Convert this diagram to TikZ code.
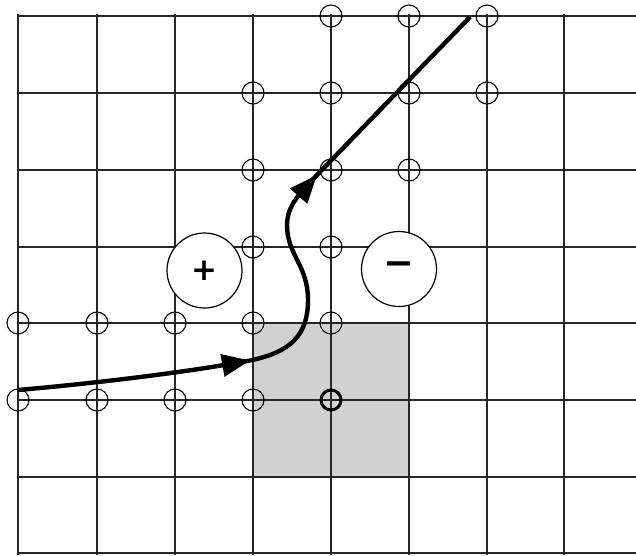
\documentclass[tikz,border=0pt]{standalone}
\usepackage{fontspec}
\newfontfamily\signfont{DejaVu Sans}
\usetikzlibrary{arrows.meta}
\tikzset{
  gridline/.style={line width=1.3pt, black!85},
  site/.style={circle, draw=black, line width=1.1pt, minimum size=22pt, inner sep=0pt},
  thicksite/.style={circle, draw=black, line width=3pt, minimum size=20pt, inner sep=0pt},
  charge/.style={circle, draw=black, fill=white, line width=1.2pt, minimum size=75pt, inner sep=0pt},
  pathline/.style={line width=4.4pt, black},
  tip/.style={-{Triangle[length=28pt,width=22pt]}},
  shade/.style={fill=black!18, draw=none}
}
\begin{document}
\begin{tikzpicture}[x=1pt,y=-1pt]
\useasboundingbox (0,0) rectangle (636,555);
% shaded plaquette
\fill[shade] (253,323) rectangle (409,477);
% grid
\foreach \gx in {18,97,175,253,331,409,487,564}
  \draw[gridline] (\gx,14) -- (\gx,555);
\foreach \gy in {16,93,170,247,323,400,477,553}
  \draw[gridline] (18,\gy) -- (636,\gy);
% lattice sites
\node[site] (s1) at (331,16) {};
\node[site] (s2) at (409,16) {};
\node[site] (s3) at (487,16) {};
\node[site] (s4) at (253,93) {};
\node[site] (s5) at (331,93) {};
\node[site] (s6) at (409,93) {};
\node[site] (s7) at (487,93) {};
\node[site] (s8) at (253,170) {};
\node[site] (s9) at (331,170) {};
\node[site] (s10) at (409,170) {};
\node[site] (s11) at (253,247) {};
\node[site] (s12) at (331,247) {};
\node[site] (s13) at (18,323) {};
\node[site] (s14) at (97,323) {};
\node[site] (s15) at (175,323) {};
\node[site] (s16) at (253,323) {};
\node[site] (s17) at (331,323) {};
\node[site] (s18) at (18,400) {};
\node[site] (s19) at (97,400) {};
\node[site] (s20) at (175,400) {};
\node[site] (s21) at (253,400) {};
\node[thicksite] (s22) at (331,400) {};
% charges
\node[charge] (plus) at (204.5,270.5) {\signfont\bfseries\fontsize{31}{31}\selectfont +};
\node[charge] (minus) at (399,269) {\signfont\bfseries\fontsize{37}{37}\selectfont −};
% path
\coordinate (p0) at (18,390);
\coordinate (p1) at (250,360.5);
\coordinate (p1b) at (245,361.4);
\coordinate (p2) at (308,300);
\coordinate (p3) at (287,225);
\coordinate (p4) at (317,175);
\coordinate (p4b) at (313.5,179);
\coordinate (p5) at (470,17);
\draw[pathline, line join=round] (p0) .. controls (120,381) and (205,369) .. (p1)
   .. controls (291,352) and (308,335) .. (p2)
   .. controls (308,265) and (287,255) .. (p3)
   .. controls (287,205) and (301,192) .. (p4) -- (p5);
\draw[pathline, tip] (p1b) -- (p1);
\draw[pathline, tip] (p4b) -- (p4);
\end{tikzpicture}
\end{document}
